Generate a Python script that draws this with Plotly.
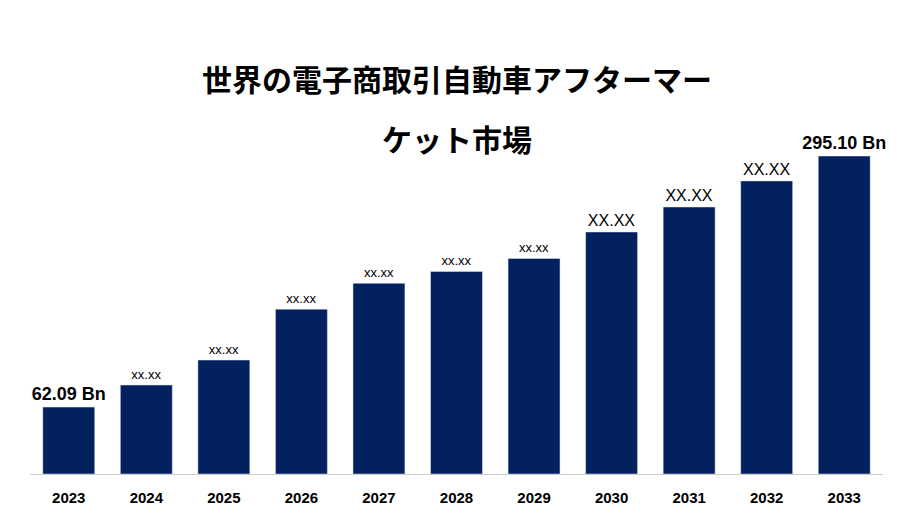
import plotly.graph_objects as go

years = ["2023", "2024", "2025", "2026", "2027", "2028", "2029", "2030", "2031", "2032", "2033"]
values = [62.09, 82.6, 105.8, 153.0, 177.0, 188.0, 200.0, 224.6, 247.8, 272.0, 295.10]
labels = ["<b>62.09 Bn</b>", "xx.xx", "xx.xx", "xx.xx", "xx.xx", "xx.xx", "xx.xx",
          "XX.XX", "XX.XX", "XX.XX", "<b>295.10 Bn</b>"]
label_sizes = [18, 13, 13, 13, 13, 13, 13, 16, 16, 16, 18]
title_lines = ["世界の電子商取引自動車アフターマー", "ケット市場"]

fig = go.Figure(go.Bar(
    x=years, y=values, marker_color="#03215e", width=0.67,
    text=labels, textposition="outside", cliponaxis=False, constraintext="none",
    textfont=dict(size=label_sizes, color="black", family="Liberation Sans"),
))

for i, line in enumerate(title_lines):
    fig.add_annotation(text="<b>" + line + "</b>", xref="paper", yref="paper",
                       x=0.5, y=1, yshift=102 - i * 60, showarrow=False,
                       font=dict(size=30, color="black", family="Noto Sans CJK JP"))

fig.update_layout(
    width=900, height=525,
    margin=dict(l=22, r=25, t=148, b=59),
    plot_bgcolor="white", paper_bgcolor="white",
    showlegend=False,
    xaxis=dict(showline=True, linecolor="#cccccc", linewidth=1,
               tickfont=dict(size=15, color="black", family="Liberation Sans"),
               ticks="", ticklabelstandoff=10,
               tickprefix="<b>", ticksuffix="</b>"),
    yaxis=dict(visible=False, range=[0, 295.1]),
)
fig.write_html("out.html")
